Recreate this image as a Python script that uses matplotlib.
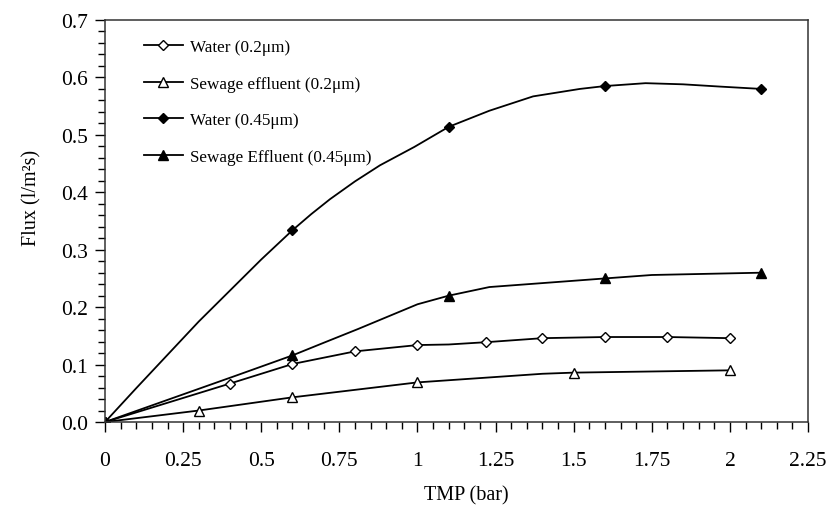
import matplotlib.pyplot as plt
from matplotlib.ticker import MultipleLocator, FixedLocator

plt.rcParams['font.family'] = ['Liberation Serif', 'DejaVu Serif']

# 数据：每条曲线的线（读图得到的平滑曲线点）和标记点
# Water (0.2um)
w02_x = [0, 0.4, 0.6, 0.8, 1.0, 1.1, 1.22, 1.4, 1.6, 1.8, 2.0]
w02_y = [0, 0.067, 0.101, 0.123, 0.134, 0.135, 0.139, 0.146, 0.148, 0.148, 0.146]
w02_mx = [0, 0.4, 0.6, 0.8, 1.0, 1.22, 1.4, 1.6, 1.8, 2.0]
w02_my = [0, 0.067, 0.101, 0.123, 0.134, 0.139, 0.146, 0.148, 0.148, 0.146]

# Sewage effluent (0.2um)
s02_x = [0, 0.3, 0.6, 1.0, 1.4, 1.5, 2.0]
s02_y = [0, 0.020, 0.043, 0.069, 0.084, 0.086, 0.090]
s02_mx = [0, 0.3, 0.6, 1.0, 1.5, 2.0]
s02_my = [0, 0.020, 0.043, 0.069, 0.086, 0.090]

# Water (0.45um)
w45_x = [0, 0.1, 0.2, 0.3, 0.4, 0.5, 0.6, 0.66, 0.72, 0.8, 0.88, 0.99, 1.1, 1.23, 1.37, 1.52, 1.6, 1.73, 1.85, 1.97, 2.1]
w45_y = [0, 0.059, 0.117, 0.175, 0.229, 0.283, 0.334, 0.362, 0.388, 0.419, 0.447, 0.479, 0.514, 0.542, 0.567, 0.580, 0.585, 0.590, 0.588, 0.584, 0.580]
w45_mx = [0, 0.6, 1.1, 1.6, 2.1]
w45_my = [0, 0.334, 0.514, 0.585, 0.580]

# Sewage Effluent (0.45um)
s45_x = [0, 0.41, 0.6, 0.7, 0.81, 1.0, 1.1, 1.23, 1.6, 1.75, 2.1]
s45_y = [0, 0.079, 0.116, 0.138, 0.162, 0.205, 0.220, 0.235, 0.250, 0.256, 0.260]
s45_mx = [0, 0.6, 1.1, 1.6, 2.1]
s45_my = [0, 0.116, 0.220, 0.250, 0.260]

labels = ['Water (0.2\u03bcm)', 'Sewage effluent (0.2\u03bcm)',
          'Water (0.45\u03bcm)', 'Sewage Effluent (0.45\u03bcm)']

fig = plt.figure(figsize=(8.29, 5.06), dpi=100)
ax = fig.add_axes([0.1267, 0.164, 0.848, 0.7945])

lw = 1.3
ax.plot(w02_x, w02_y, color='black', lw=lw)
ax.plot(w02_mx, w02_my, ls='none', marker='D', ms=5, mfc='white', mec='black', mew=1)
ax.plot(s02_x, s02_y, color='black', lw=lw)
ax.plot(s02_mx, s02_my, ls='none', marker='^', ms=7, mfc='white', mec='black', mew=1)
ax.plot(w45_x, w45_y, color='black', lw=lw)
ax.plot(w45_mx, w45_my, ls='none', marker='D', ms=5.5, mfc='black', mec='black')
ax.plot(s45_x, s45_y, color='black', lw=lw)
ax.plot(s45_mx, s45_my, ls='none', marker='^', ms=7.5, mfc='black', mec='black')

# 图例：用代理线条
h1, = ax.plot([], [], color='black', lw=lw, marker='D', ms=5, mfc='white', mec='black')
h2, = ax.plot([], [], color='black', lw=lw, marker='^', ms=7, mfc='white', mec='black')
h3, = ax.plot([], [], color='black', lw=lw, marker='D', ms=5.5, mfc='black', mec='black')
h4, = ax.plot([], [], color='black', lw=lw, marker='^', ms=7.5, mfc='black', mec='black')
ax.legend([h1, h2, h3, h4], labels, loc='upper left', bbox_to_anchor=(0.033, 0.99),
          frameon=False, fontsize=12.3, handlelength=2.3, handletextpad=0.4,
          labelspacing=1.2)

ax.set_xlim(0, 2.25)
ax.set_ylim(0, 0.7)
ax.xaxis.set_major_locator(FixedLocator([0, 0.25, 0.5, 0.75, 1, 1.25, 1.5, 1.75, 2, 2.25]))
ax.set_xticklabels(['0', '0.25', '0.5', '0.75', '1', '1.25', '1.5', '1.75', '2', '2.25'])
ax.xaxis.set_minor_locator(MultipleLocator(0.05))
ax.yaxis.set_major_locator(MultipleLocator(0.1))
ax.yaxis.set_minor_locator(MultipleLocator(0.02))
ax.yaxis.set_major_formatter(plt.FormatStrFormatter('%.1f'))

ax.tick_params(which='both', direction='out', top=False, right=False, labelsize=15.5, width=1)
ax.tick_params(which='major', length=7)
ax.tick_params(axis='x', which='major', pad=14)
ax.tick_params(axis='y', which='major', pad=5)
ax.tick_params(which='minor', length=5)
for s in ax.spines.values():
    s.set_linewidth(1.1)
    s.set_color('#333333')

ax.set_xlabel('TMP (bar)', fontsize=14.5, labelpad=11)
ax.set_ylabel('Flux (l/m\u00b2s)', fontsize=14.5, labelpad=14)
ax.xaxis.label.set_x(0.514)
ax.yaxis.label.set_y(0.56)

fig.savefig('out.png', dpi=100)
